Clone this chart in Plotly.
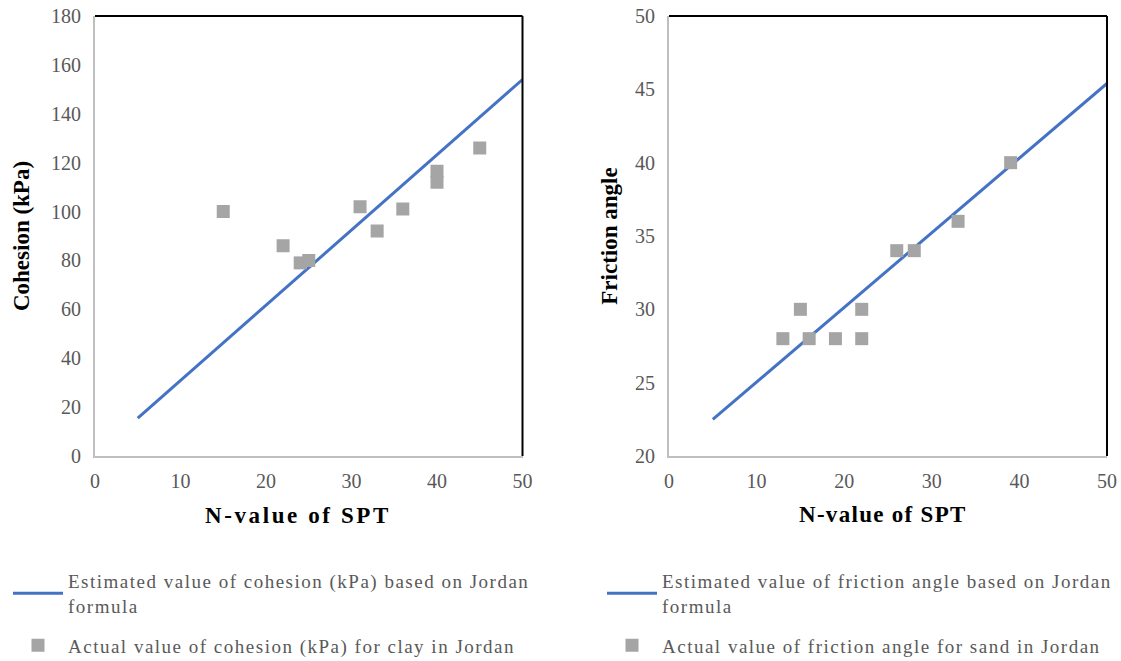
import plotly.graph_objects as go

# Left chart: cohesion
coh_line_n = [5, 50]
coh_line_val = [15.5, 154]
coh_n = [15, 22, 24, 25, 31, 33, 36, 40, 40, 45]
coh_val = [100, 86, 79, 80, 102, 92, 101, 116.5, 112, 126]

# Right chart: friction angle
fr_line_n = [5, 50]
fr_line_val = [22.5, 45.4]
fr_n = [13, 15, 16, 19, 22, 22, 26, 28, 33, 39]
fr_val = [28, 30, 28, 28, 30, 28, 34, 34, 36, 40]

x_title = "N-value of SPT"
y1_title = "Cohesion (kPa)"
y2_title = "Friction angle"

W, H = 1121, 661
FONT = "Liberation Serif"
LINE_C = "#4472c4"
MARK_C = "#a5a5a5"
TICK_C = "#595959"
AX_C = "#bfbfbf"


def ls(text, px):
    return f'<span style="letter-spacing:{px}px">{text}</span>'


LSP = 1.5
fig = go.Figure()
fig.add_trace(go.Scatter(x=coh_line_n, y=coh_line_val, mode="lines",
                         line=dict(color=LINE_C, width=3),
                         name=ls("Estimated value of cohesion (kPa) based on Jordan", LSP) + "<br>" + ls("formula", LSP),
                         xaxis="x", yaxis="y", legend="legend", legendgroup="a"))
fig.add_trace(go.Scatter(x=coh_n, y=coh_val, mode="markers",
                         marker=dict(symbol="square", color=MARK_C, size=13),
                         name=ls("Actual value of cohesion (kPa) for clay in Jordan", LSP),
                         xaxis="x", yaxis="y", legend="legend", legendgroup="b"))
fig.add_trace(go.Scatter(x=fr_line_n, y=fr_line_val, mode="lines",
                         line=dict(color=LINE_C, width=3),
                         name=ls("Estimated value of friction angle based on Jordan", LSP) + "<br>" + ls("formula", LSP),
                         xaxis="x2", yaxis="y2", legend="legend2", legendgroup="c"))
fig.add_trace(go.Scatter(x=fr_n, y=fr_val, mode="markers",
                         marker=dict(symbol="square", color=MARK_C, size=13),
                         name=ls("Actual value of friction angle for sand in Jordan", LSP),
                         xaxis="x2", yaxis="y2", legend="legend2", legendgroup="d"))


def fy(p):
    return 1 - p / H


def fx(p):
    return p / W


ydom = [fy(456), fy(16)]
x1dom = [fx(95), fx(522.5)]
x2dom = [fx(669), fx(1107)]

tickfont = dict(family=FONT, size=20, color=TICK_C)
titlefont = dict(family=FONT, size=23, color="black", weight="bold")

common_x = dict(range=[0, 50], dtick=10, showgrid=False, zeroline=False,
                showline=True, linecolor=AX_C, linewidth=2, ticks="",
                tickfont=tickfont, ticklabelstandoff=6, automargin=False,
                ticklabeloverflow="allow")
common_y = dict(showgrid=False, zeroline=False, showline=True, linecolor=AX_C,
                linewidth=2, ticks="", tickfont=tickfont, ticklabelstandoff=8,
                automargin=False, ticklabeloverflow="allow")

legfont = dict(family=FONT, size=19, color=TICK_C)

fig.update_layout(
    width=W, height=H,
    margin=dict(l=0, r=0, t=0, b=0, autoexpand=False),
    paper_bgcolor="white", plot_bgcolor="white",
    font=dict(family=FONT),
    xaxis=dict(domain=x1dom, anchor="y", **common_x),
    yaxis=dict(domain=ydom, anchor="x", range=[0, 180], dtick=20,
               title=dict(text=y1_title, font=titlefont, standoff=15), **common_y),
    xaxis2=dict(domain=x2dom, anchor="y2", **common_x),
    yaxis2=dict(domain=ydom, anchor="x2", range=[20, 50], dtick=5,
                title=dict(text=y2_title, font=titlefont, standoff=11), **common_y),
    legend=dict(x=fx(8), y=fy(562), xanchor="left", yanchor="top",
                font=legfont, tracegroupgap=12, itemwidth=50,
                bgcolor="rgba(0,0,0,0)"),
    legend2=dict(x=fx(602), y=fy(562), xanchor="left", yanchor="top",
                 font=legfont, tracegroupgap=12, itemwidth=50,
                 bgcolor="rgba(0,0,0,0)"),
    showlegend=True,
)

# x-axis titles as annotations (positioned like the reference)
fig.add_annotation(text=ls(x_title, 2.6), xref="paper", yref="paper",
                   x=fx(298), y=fy(515), xanchor="center", yanchor="middle",
                   showarrow=False, font=titlefont)
fig.add_annotation(text=ls(x_title, 1.3), xref="paper", yref="paper",
                   x=fx(883), y=fy(514), xanchor="center", yanchor="middle",
                   showarrow=False, font=titlefont)

# Top and right borders in black
for xr, yr in [("x domain", "y domain"), ("x2 domain", "y2 domain")]:
    fig.add_shape(type="line", xref=xr, yref=yr, x0=0, x1=1, y0=1, y1=1,
                  line=dict(color="black", width=2))
    fig.add_shape(type="line", xref=xr, yref=yr, x0=1, x1=1, y0=0, y1=1,
                  line=dict(color="black", width=2))

# remove the default 8px page margin so the figure fills the window exactly
fig.write_html("out.html",
               config={"displayModeBar": False},
               post_script="document.body.style.margin='0';document.body.style.overflow='hidden';")
